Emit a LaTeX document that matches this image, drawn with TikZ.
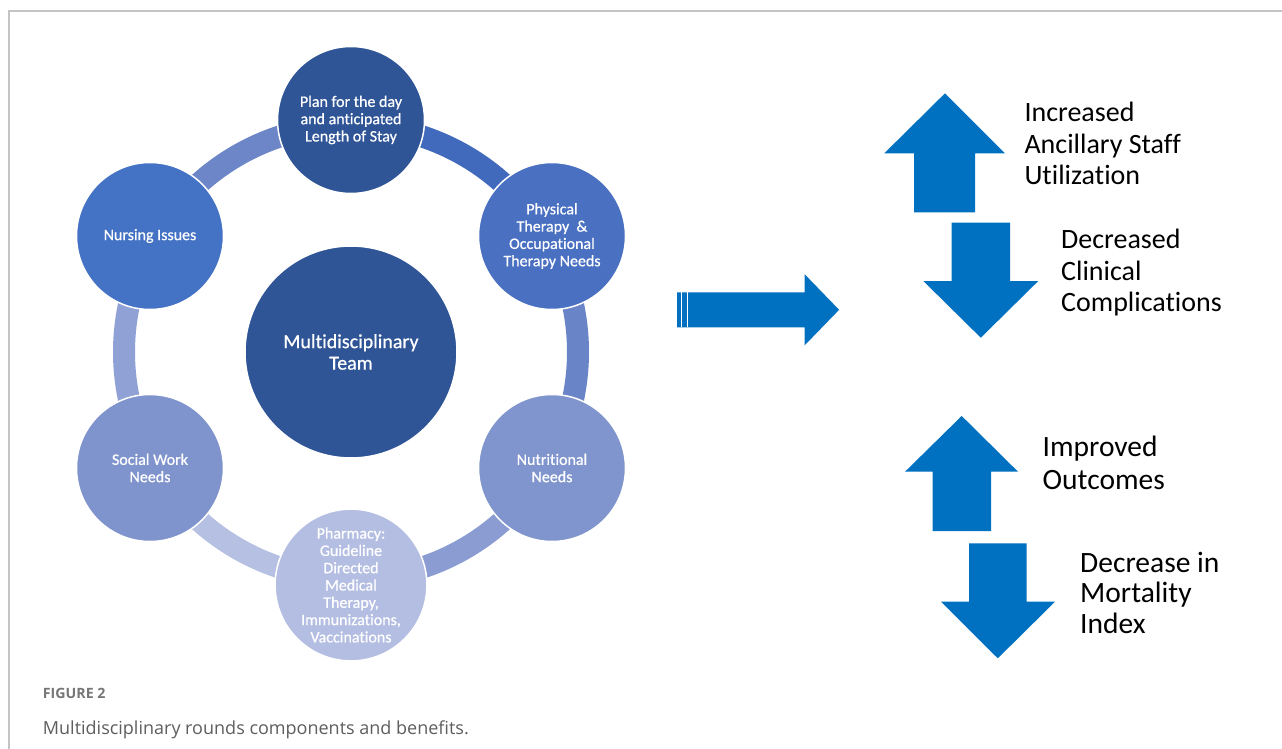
\documentclass[tikz,border=0pt]{standalone}
\usepackage{fontspec}
\setmainfont{Carlito}[Ligatures=NoCommon]
\newfontfamily\capfont{Open Sans}
\newfontfamily\circfont[FakeBold=0.6,Ligatures=NoCommon]{Carlito}
\definecolor{arrowblue}{HTML}{0070C0}
\definecolor{framegray}{HTML}{C4C4C4}
\definecolor{capgray}{HTML}{5E5E5E}
\definecolor{circdark}{HTML}{2F5597}
\definecolor{circnurse}{HTML}{4472C4}
\definecolor{circpt}{HTML}{4A70C1}
\definecolor{circsocial}{HTML}{7F93CC}
\definecolor{circnutr}{HTML}{8095CD}
\definecolor{circpharm}{HTML}{B4BEE2}
\definecolor{segTR}{HTML}{4169BC}
\definecolor{segR}{HTML}{6A84C8}
\definecolor{segBR}{HTML}{8A9CD2}
\definecolor{segBL}{HTML}{B5C0E3}
\definecolor{segL}{HTML}{8FA1D5}
\definecolor{segTL}{HTML}{6D86C8}
\begin{document}
\begin{tikzpicture}[x=1pt,y=1pt,
  member/.style={circle, draw=white, line width=1.5pt, minimum size=147pt,
    inner sep=0pt, text=white, align=center,
    font=\circfont\fontsize{16}{17.3}\selectfont},
  ringseg/.style={line width=22pt},
  benefit/.style={anchor=base west, align=left, inner sep=0pt, text=black},
  blockarrow/.style={fill=arrowblue}
]
% canvas and frame
\useasboundingbox (0,0) rectangle (1282,-749);
\fill[white] (0,0) rectangle (1282,-749);
\draw[framegray, line width=1.5pt] (9,-749) -- (9,-11) -- (1282,-11);

% hub of the cycle
\coordinate (hub) at (351,-352);

% ring segments between the outer circles
\draw[ringseg, segTR] (hub) ++(90:227pt) arc[start angle=90, end angle=30, radius=227pt];
\draw[ringseg, segR]  (hub) ++(30:227pt) arc[start angle=30, end angle=-30, radius=227pt];
\draw[ringseg, segBR] (hub) ++(-30:227pt) arc[start angle=-30, end angle=-90, radius=227pt];
\draw[ringseg, segBL] (hub) ++(-90:227pt) arc[start angle=-90, end angle=-150, radius=227pt];
\draw[ringseg, segL]  (hub) ++(210:227pt) arc[start angle=210, end angle=150, radius=227pt];
\draw[ringseg, segTL] (hub) ++(150:227pt) arc[start angle=150, end angle=90, radius=227pt];

% centre and outer circles
\node[member, fill=circdark, minimum size=212pt, font=\circfont\fontsize{20}{21.5}\selectfont]
  (team) at (hub) {Multidisciplinary\\Team};
\node[member, fill=circdark]   (plan)   at (351,-120)   {Plan for the day\\and anticipated\\Length of Stay};
\node[member, fill=circpt]     (ptot)   at (552,-236)   {Physical\\Therapy\ \ \&\\Occupational\\Therapy Needs};
\node[member, fill=circnutr]   (nutr)   at (552,-468)   {Nutritional\\Needs};
\node[member, fill=circpharm]  (pharm)  at (351,-585)   {Pharmacy:\\Guideline\\Directed\\Medical\\Therapy,\\Immunizations,\\Vaccinations};
\node[member, fill=circsocial] (social) at (150,-468)   {Social Work\\Needs};
\node[member, fill=circnurse]  (nurse)  at (150,-236)   {Nursing Issues};

% striped arrow leading to the benefits
\fill[blockarrow] (677,-292.3) -- (804.7,-292.3) -- (804.7,-274.3) -- (839.1,-309.8)
  -- (804.7,-345.3) -- (804.7,-327.3) -- (677,-327.3) -- cycle;
\draw[white, line width=0.9pt] (681,-292.3) -- (681,-327.3);
\draw[white, line width=0.9pt] (687,-292.3) -- (687,-327.3);

% up and down block arrows
\fill[blockarrow] (945,-93.3) -- (1005,-153.3) -- (975,-153.3) -- (975,-212.3)
  -- (914,-212.3) -- (914,-153.3) -- (884.3,-153.3) -- cycle;
\fill[blockarrow] (951.7,-222.7) -- (1010,-222.7) -- (1010,-281) -- (1038.3,-281)
  -- (980.8,-337.7) -- (923.3,-281) -- (951.7,-281) -- cycle;
\fill[blockarrow] (961.7,-416) -- (1018,-471.7) -- (991,-471.7) -- (991,-531)
  -- (932.7,-531) -- (932.7,-471.7) -- (905,-471.7) -- cycle;
\fill[blockarrow] (969,-543.3) -- (1026.7,-543.3) -- (1026.7,-601.7) -- (1055,-601.7)
  -- (997.8,-658.3) -- (941,-601.7) -- (969,-601.7) -- cycle;

% benefit labels (the base anchor sits on the last line)
\node[benefit, font=\fontsize{28}{31.3}\selectfont] (incr) at (1024.3,-184.3)
  {Increased\\Ancillary Staff\\Utilization};
\node[benefit, font=\fontsize{28}{31.5}\selectfont] (decr) at (1061,-311.5)
  {Decreased\\Clinical\\Complications};
\node[benefit, font=\fontsize{29.5}{32.6}\selectfont] (impr) at (1042.5,-489.3)
  {Improved\\Outcomes};
\node[benefit, font=\fontsize{29.5}{30.7}\selectfont] (mort) at (1080,-633.4)
  {Decrease in\\Mortality\\Index};

% caption
\node[anchor=base west, inner sep=0pt, text=capgray!85,
  font=\capfont\bfseries\fontsize{14.2}{18}\selectfont] (fig) at (42.7,-698.3) {FIGURE 2};
\node[anchor=base west, inner sep=0pt, text=capgray,
  font=\capfont\fontsize{18}{22}\selectfont] (cap) at (42.7,-734)
  {Multidisciplinary rounds components and benefits.};
\end{tikzpicture}
\end{document}
